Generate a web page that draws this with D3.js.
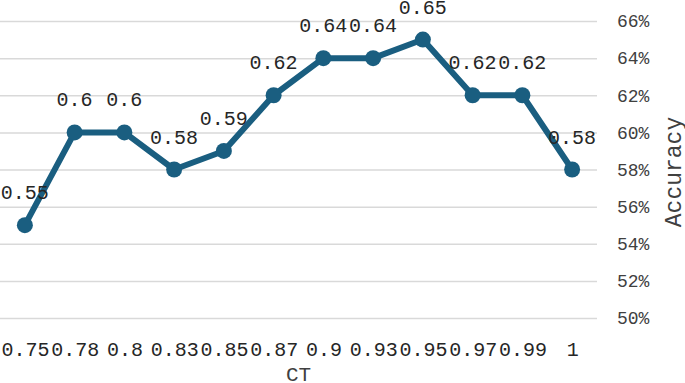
<!DOCTYPE html>
<html>
<head>
<meta charset="utf-8">
<script src="https://cdn.jsdelivr.net/npm/d3@7"></script>
<style>
  body { margin: 0; background: #fff; }
</style>
</head>
<body>
<div id="chart"></div>
<script>
const categories = ["0.75", "0.78", "0.8", "0.83", "0.85", "0.87", "0.9", "0.93", "0.95", "0.97", "0.99", "1"];
const accuracy = [0.55, 0.60, 0.60, 0.58, 0.59, 0.62, 0.64, 0.64, 0.65, 0.62, 0.62, 0.58];
const yTicks = [0.50, 0.52, 0.54, 0.56, 0.58, 0.60, 0.62, 0.64, 0.66];

const width = 685, height = 383,
  margin = {top: 21, right: 88, bottom: 65, left: 0};
const mono = '"Liberation Mono", "Courier New", monospace';

const svg = d3.select("#chart")
  .append("svg")
  .attr("width", width)
  .attr("height", height);

const x = d3.scalePoint(categories, [margin.left, width - margin.right]).padding(0.5);
const y = d3.scaleLinear([0.50, 0.66], [height - margin.bottom, margin.top]);

// gridlines + right axis labels
svg.append("g")
  .attr("transform", `translate(${width - margin.right},0)`)
  .call(d3.axisRight(y).tickValues(yTicks).tickFormat(d3.format(".0%"))
    .tickSize(-(width - margin.left - margin.right)).tickPadding(20))
  .call(g => g.select(".domain").remove())
  .call(g => g.selectAll(".tick line").attr("stroke", "#d9d9d9").attr("stroke-width", 1.5))
  .call(g => g.selectAll(".tick text").style("font-family", mono).style("font-size", "18px").style("fill", "#404040"));

svg.append("g")
  .attr("transform", `translate(0,${height - margin.bottom})`)
  .call(d3.axisBottom(x).tickSize(0).tickPadding(24))
  .call(g => g.select(".domain").remove())
  .call(g => g.selectAll(".tick text").style("font-family", mono).style("font-size", "20px").style("fill", "#262626"));

const line = d3.line()
  .x((d, i) => x(categories[i]))
  .y(d => y(d));

svg.append("path")
  .datum(accuracy)
  .attr("fill", "none")
  .attr("stroke", "#1a5e80")
  .attr("stroke-width", 6)
  .attr("stroke-linejoin", "round")
  .attr("d", line);

svg.append("g")
  .selectAll("circle")
  .data(accuracy)
  .join("circle")
  .attr("cx", (d, i) => x(categories[i]))
  .attr("cy", d => y(d))
  .attr("r", 8)
  .attr("fill", "#1a5e80");

svg.append("g")
  .selectAll("text")
  .data(accuracy)
  .join("text")
  .attr("x", (d, i) => x(categories[i]))
  .attr("y", d => y(d) - 26)
  .attr("text-anchor", "middle")
  .style("font-family", mono)
  .style("font-size", "20px")
  .style("fill", "#262626")
  .text(d => d);

svg.append("text")
  .attr("x", (margin.left + width - margin.right) / 2)
  .attr("y", 381)
  .attr("text-anchor", "middle")
  .style("font-family", mono)
  .style("font-size", "21px")
  .style("fill", "#404040")
  .text("CT");

svg.append("text")
  .attr("transform", `translate(681,172) rotate(-90)`)
  .attr("text-anchor", "middle")
  .style("font-family", mono)
  .style("font-size", "23px")
  .style("fill", "#404040")
  .text("Accuracy");
</script>
</body>
</html>
